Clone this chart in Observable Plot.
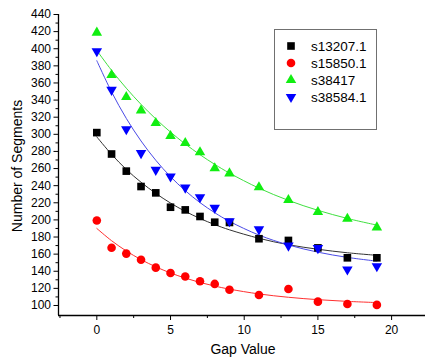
<!DOCTYPE html>
<html>
<head>
<meta charset="utf-8">
<script src="https://cdn.jsdelivr.net/npm/d3@7"></script>
<script src="https://cdn.jsdelivr.net/npm/@observablehq/plot@0.6"></script>
<style>
  html, body { margin: 0; padding: 0; background: #fff; }
  #chart { width: 425px; height: 360px; }
</style>
</head>
<body>
<div id="chart"></div>
<script>
// ---- data ----
const gapValues = [0, 1, 2, 3, 4, 5, 6, 7, 8, 9, 11, 13, 15, 17, 19];
const seriesNames = ["s13207.1", "s15850.1", "s38417", "s38584.1"];
const s13207 = [302, 277, 257, 239, 231.6, 214.8, 211.7, 204, 197.3, 197, 178, 176, 167.3, 155.7, 155.7];
const s15850 = [199.3, 167.4, 160.6, 153.4, 144.2, 138, 133.8, 128.4, 125.2, 118.3, 112.3, 119.2, 104.5, 101.8, 100.7];
const s38417 = [418.8, 369.3, 343.6, 328, 313.2, 298, 289.8, 279, 260.3, 254.4, 238.1, 223.2, 209.3, 201.3, 191.2];
const s38584 = [397, 352, 306, 278, 258.5, 250.7, 237.7, 226.5, 214.1, 198.5, 189, 170, 167, 142, 145.8];
// fitted curves at the same gap values
const fit13207 = [297, 276.6, 259, 244, 231, 219.7, 210, 201.7, 194.5, 188.4, 178.5, 171, 165.7, 161.6, 158.6];
const fit15850 = [190, 175.7, 163.7, 153.6, 145.2, 138, 132, 126.9, 122.7, 119.1, 113.5, 109.6, 106.8, 104.8, 103.4];
const fit38417 = [398, 374.8, 353.9, 335, 318, 302.6, 288.7, 276.2, 264.9, 254.7, 237.1, 222.8, 211.2, 201.7, 193.9];
const fit38584 = [386, 349.6, 318.6, 292.2, 269.7, 250.5, 234.2, 220.2, 208.4, 198.3, 182.3, 170.7, 162.3, 156.2, 151.8];
const xMajorTicks = [0, 5, 10, 15, 20];
const xMinorTicks = [-2.5, 2.5, 7.5, 12.5, 17.5];
const yMajorTicks = [100, 120, 140, 160, 180, 200, 220, 240, 260, 280, 300, 320, 340, 360, 380, 400, 420, 440];
const yMinorTicks = [110, 130, 150, 170, 190, 210, 230, 250, 270, 290, 310, 330, 350, 370, 390, 410, 430];
const xTitle = "Gap Value";
const yTitle = "Number of Segments";

// ---- styling ----
const xDomain = [-2.6, 22.3];
const yDomain = [88.3, 440];
const styles = [
  {name: seriesNames[0], pts: s13207, fit: fit13207, fill: "#000000", line: "#333333", symbol: "square", r: 4.3, rotate: 0},
  {name: seriesNames[1], pts: s15850, fit: fit15850, fill: "#ff0000", line: "#ff3030", symbol: "circle", r: 4.3, rotate: 0},
  {name: seriesNames[2], pts: s38417, fit: fit38417, fill: "#11ee11", line: "#40e040", symbol: "triangle", r: 3.9, rotate: 0},
  {name: seriesNames[3], pts: s38584, fit: fit38584, fill: "#0000ff", line: "#4a4ae6", symbol: "triangle", r: 3.9, rotate: 180}
];

const marks = [];
// axis lines
marks.push(Plot.ruleX([xDomain[0]], {stroke: "#000", strokeWidth: 1.3}));
marks.push(Plot.ruleY([yDomain[0]], {stroke: "#000", strokeWidth: 1.3}));
marks.push(Plot.axisY({ticks: yMajorTicks, tickSize: 4.5, tickPadding: 3, tickFormat: d => String(d), fontSize: 12}));
marks.push(Plot.axisY({ticks: yMinorTicks, tickSize: 2.5, tickFormat: () => ""}));
marks.push(Plot.axisX({ticks: xMajorTicks, tickSize: 5, tickPadding: 5, tickFormat: d => String(d), fontSize: 12}));
marks.push(Plot.axisX({ticks: xMinorTicks, tickSize: 3, tickFormat: () => ""}));

for (const s of styles) {
  const fitData = gapValues.map((g, i) => ({x: g, y: s.fit[i]}));
  marks.push(Plot.line(fitData, {x: "x", y: "y", stroke: s.line, strokeWidth: 1, curve: "catmull-rom"}));
}
for (const s of styles) {
  const ptData = gapValues.map((g, i) => ({x: g, y: s.pts[i]}));
  marks.push(Plot.dot(ptData, {x: "x", y: "y", symbol: s.symbol, r: s.r, fill: s.fill, stroke: "none", rotate: s.rotate}));
}

const chart = Plot.plot({
  width: 425,
  height: 360,
  marginTop: 14,
  marginBottom: 45,
  marginLeft: 58,
  marginRight: 0,
  style: {fontFamily: "Arial, 'Liberation Sans', sans-serif", fontSize: "12px", color: "#000", background: "#fff"},
  x: {domain: xDomain, label: null},
  y: {domain: yDomain, label: null},
  marks
});
document.getElementById("chart").appendChild(chart);

// ---- titles and legend ----
const svg = d3.select(chart);
svg.append("text")
  .attr("x", 243).attr("y", 354)
  .attr("text-anchor", "middle")
  .style("font-size", "14px").attr("fill", "#000")
  .text(xTitle);
svg.append("text")
  .attr("transform", "translate(22,166) rotate(-90)")
  .attr("text-anchor", "middle")
  .style("font-size", "14px").attr("fill", "#000")
  .text(yTitle);

const lg = svg.append("g");
lg.append("rect")
  .attr("x", 274.5).attr("y", 29.5).attr("width", 102).attr("height", 100)
  .attr("fill", "#fff").attr("stroke", "#707070").attr("stroke-width", 1);
const symMap = {square: d3.symbolSquare, circle: d3.symbolCircle, triangle: d3.symbolTriangle};
styles.forEach((s, i) => {
  const cy = 46 + i * 17;
  lg.append("path")
    .attr("d", d3.symbol(symMap[s.symbol], Math.PI * s.r * s.r)())
    .attr("transform", `translate(291,${cy}) rotate(${s.rotate})`)
    .attr("fill", s.fill);
  lg.append("text")
    .attr("x", 311).attr("y", cy).attr("dy", "0.36em")
    .attr("text-anchor", "start")
    .style("font-size", "13.5px").attr("fill", "#000")
    .text(s.name);
});
</script>
</body>
</html>
